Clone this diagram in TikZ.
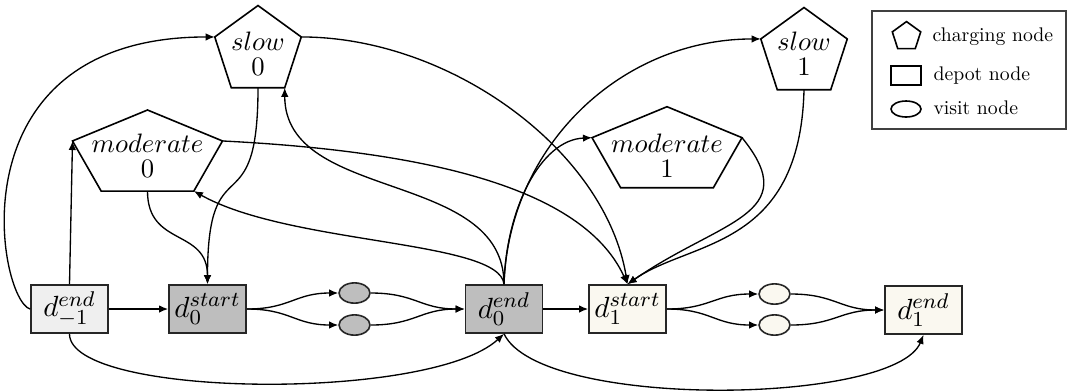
\documentclass[tikz,border=0pt]{standalone}
\usetikzlibrary{shapes.geometric,arrows.meta}
\definecolor{lgray}{HTML}{EFEFEF}
\definecolor{mgray}{HTML}{BEBEBE}
\definecolor{cream}{HTML}{FAF8F0}
\begin{document}
\begin{tikzpicture}[x=0.375pt,y=0.375pt,
  depot/.style={draw=black!85, line width=0.6pt, minimum width=28.9pt, minimum height=18pt, inner sep=0pt, font=\fontsize{11}{13}\selectfont},
  visit/.style={draw=black!85, ellipse, line width=0.6pt, minimum width=11.6pt, minimum height=7.6pt, inner sep=0pt},
  charge/.style={draw, regular polygon, regular polygon sides=5, minimum size=34.1pt, inner sep=0pt, outer sep=0pt, line width=0.6pt},
  ctext/.style={align=center, font=\fontsize{10}{9.4}\selectfont, inner sep=0pt},
  legtext/.style={anchor=base west, inner sep=0pt, font=\fontsize{10}{12}\selectfont},
  arr/.style={-{Latex[length=3.4pt,width=2.8pt]}, line width=0.5pt}]
\useasboundingbox (0,0) rectangle (1068,-391);

% depot nodes
\node[depot, fill=lgray] (dm1) at (69.5,-309) {$d^{end}_{-1}$};
\node[depot, fill=mgray] (d0s) at (207.5,-309) {$d^{start}_0$};
\node[depot, fill=mgray] (d0e) at (504,-309) {$d^{end}_0$};
\node[depot, fill=cream] (d1s) at (627.5,-309) {$d^{start}_1$};
\node[depot, fill=cream] (d1e) at (923.5,-310) {$d^{end}_1$};

% visit nodes
\node[visit, fill=mgray] (e1) at (354.5,-293) {};
\node[visit, fill=mgray] (e2) at (354.5,-325) {};
\node[visit, fill=cream] (e3) at (774.5,-294) {};
\node[visit, fill=cream] (e4) at (774.5,-325) {};

% charging nodes
\node[charge] (s0) at (258,-51) {};
\node[charge] (s1) at (804,-53) {};
\begin{scope}[shift={(147.5,-154.8)}, xscale=1.76]
  \node[charge, minimum size=33.6pt, transform shape] (m0) at (0,0) {};
\end{scope}
\begin{scope}[shift={(667,-151.5)}, xscale=1.76]
  \node[charge, minimum size=33.6pt, transform shape] (m1) at (0,0) {};
\end{scope}
\node[ctext] (s0t) at (258,-54) {$slow$\\$0$};
\node[ctext] (s1t) at (804,-54) {$slow$\\$1$};
\node[ctext] (m0t) at (147.5,-155.5) {$moderate$\\$0$};
\node[ctext] (m1t) at (667,-155.5) {$moderate$\\$1$};

% legend
\node[draw=black!75, line width=0.6pt, minimum width=72.75pt, minimum height=44.25pt, inner sep=0pt] (leg) at (969,-70) {};
\node[charge, minimum size=11.2pt] (lp) at (906.5,-36.5) {};
\node[draw, line width=0.6pt, minimum width=11.25pt, minimum height=7.1pt, inner sep=0pt] (lr) at (906,-75.5) {};
\node[draw, ellipse, line width=0.6pt, minimum width=11.25pt, minimum height=6pt, inner sep=0pt] (le) at (906,-109) {};
\node[legtext] (lpt) at (932,-41.5) {\scalebox{0.74}{charging node}};
\node[legtext] (lrt) at (933,-80) {\scalebox{0.74}{depot node}};
\node[legtext] (let) at (933,-114) {\scalebox{0.74}{visit node}};

% straight connectors
\draw[arr] (dm1) -- (d0s);
\draw[arr] (d0e) -- (d1s);

% through visit nodes
\draw[arr] (d0s.east) to[out=0,in=180,looseness=1.2] (e1.west);
\draw[arr] (d0s.east) to[out=0,in=180,looseness=1.2] (e2.west);
\draw[arr] (e1.east) to[out=0,in=180,looseness=1.2] (d0e.west);
\draw[arr] (e2.east) to[out=0,in=180,looseness=1.2] (d0e.west);
\draw[arr] (d1s.east) to[out=0,in=180,looseness=1.2] (e3.west);
\draw[arr] (d1s.east) to[out=0,in=180,looseness=1.2] (e4.west);
\draw[arr] (e3.east) to[out=0,in=180,looseness=1.2] (d1e.west);
\draw[arr] (e4.east) to[out=0,in=180,looseness=1.2] (d1e.west);

% bottom arcs
\draw[arr] (dm1.south) .. controls (69,-398) and (430,-402) .. (d0e.south);
\draw[arr] (d0e.south) .. controls (540,-410) and (895,-405) .. (d1e.south);

% to period 0 charging
\draw[arr] (dm1.north) -- (m0.corner 2);
\draw[arr] (dm1.west) .. controls (-2,-300) and (-50,-37) .. (s0.corner 2);
\draw[arr] (m0.south) to[out=-90,in=90,looseness=1.3] (d0s.north);
\draw[arr] (s0.south) to[out=-90,in=90,looseness=1.8] (d0s.north);

% from d0 end upward
\draw[arr] (d0e.north) to[out=90,in=-90] (s0.corner 4);
\draw[arr] (d0e.north) .. controls (500,-240) and (290,-245) .. (m0.corner 4);
\draw[arr] (d0e.north) to[out=88,in=180] (s1.corner 2);
\draw[arr] (d0e.north) .. controls (506,-210) and (540,-140) .. (m1.corner 2);

% into d1 start
\draw[arr] (s0.corner 5) .. controls (450,-37) and (605,-150) .. (d1s.north);
\draw[arr] (m0.corner 5) .. controls (400,-150) and (580,-180) .. (d1s.north);
\draw[arr] (m1.corner 5) .. controls (805,-215) and (720,-220) .. (d1s.north);
\draw[arr] (s1.south) .. controls (800,-250) and (690,-240) .. (d1s.north);
\end{tikzpicture}
\end{document}
